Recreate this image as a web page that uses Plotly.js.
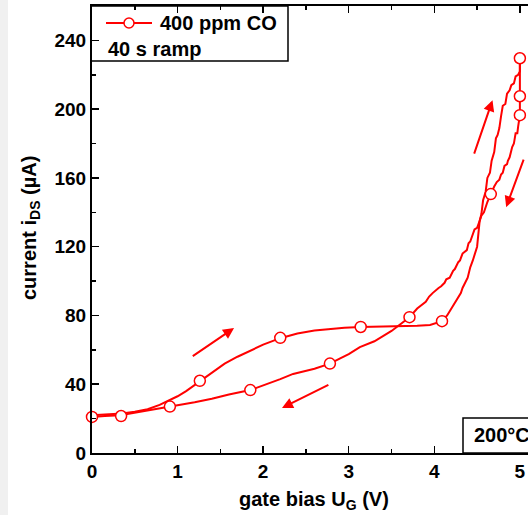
<!DOCTYPE html>
<html>
<head>
<meta charset="utf-8">
<script src="https://cdn.plot.ly/plotly-3.0.1.min.js"></script>
<style>
html,body{margin:0;padding:0;overflow:hidden;background:#fff;}
#strip{position:absolute;left:0;top:0;width:8px;height:515px;background:#f0f0f0;z-index:5;}
#chart{position:absolute;left:0;top:0;width:548px;height:515px;}
</style>
</head>
<body>
<div id="strip"></div>
<div id="chart"></div>
<script>
// forward sweep (0 V -> 5 V)
const fwdX = [0,0.15,0.35,0.5,0.65,0.79,0.9,1.0,1.1,1.26,1.4,1.55,1.7,1.81,2.0,2.2,2.4,2.6,2.74,2.95,3.14,3.4,3.6,3.8,3.95,4.02,4.09,4.15,4.2,4.22,4.28,4.31,4.33,4.39,4.42,4.45,4.5,4.53,4.55,4.57,4.6,4.62,4.65,4.67,4.7,4.72,4.74,4.76,4.78,4.8,4.83,4.85,4.88,4.9,4.93,4.95,4.98,5.0,5.0];
const fwdY = [22,22.5,23,24,25.5,28,30.5,33,36,41.8,47,52,56,58.7,63,66.8,69.5,71.2,72,72.8,73.3,73.5,73.7,74,74.5,75.5,76.7,80,84,86,91,93,96,102,108,112,120,135,139,147,152,160,163,170,175,183,185,189,196,202,203,209,211,214,215,219,220,222,229.6];
// reverse sweep (5 V -> 0 V)
const revX = [5.0,5.0,5.0,4.98,4.97,4.95,4.93,4.91,4.9,4.88,4.86,4.85,4.82,4.8,4.78,4.76,4.73,4.7,4.66,4.62,4.58,4.55,4.53,4.5,4.47,4.45,4.42,4.4,4.38,4.33,4.3,4.28,4.24,4.22,4.18,4.14,4.12,4.08,4.05,3.98,3.94,3.9,3.85,3.8,3.71,3.6,3.5,3.4,3.3,3.13,3.0,2.9,2.78,2.6,2.35,2.2,2.0,1.85,1.6,1.4,1.2,0.91,0.7,0.5,0.33,0.15,0];
const revY = [229.6,207.5,196.5,190,186,186,180,178,176,172,170,168,167,163,162,159,157.6,155,150.6,146,140,138,135,131,130,127,123,122,118,116,112,111,107,106,102,101,99,97,96,93,91,88,86,84,79,75,71,68,65,61.6,57.5,55,52,49,46,43,39.5,36.6,34,31.5,29.5,27,25.5,23.5,22,21.5,21];
// sampled points (open circles)
const markX = [0,0.34,0.91,1.26,1.85,2.2,2.78,3.14,3.71,4.09,4.66,5.0,5.0,5.0];
const markY = [21,21.5,27,42,36.6,67,52,73.3,79,76.7,150.6,196.5,207.5,229.6];
// sweep-direction arrows: [tailX, tailY, headX, headY]
const arrows = [[1.16,55.8,1.66,72.7],[2.78,40.1,2.22,26.2],[4.46,173.3,4.68,205.2],[5.05,171.5,4.84,143.0]];
const xTicks = [0,1,2,3,4,5];
const yTicks = [0,40,80,120,160,200,240];

const RED = '#ff0000';
const FONT = 'Liberation Sans, Arial, sans-serif';

const traces = [
  {x: fwdX, y: fwdY, mode: 'lines', line: {color: RED, width: 2}, showlegend: false, hoverinfo: 'skip'},
  {x: revX, y: revY, mode: 'lines', line: {color: RED, width: 2}, showlegend: false, hoverinfo: 'skip'},
  {x: markX, y: markY, mode: 'markers', cliponaxis: false, showlegend: false,
   marker: {symbol: 'circle', size: 11, color: '#ffffff', line: {color: RED, width: 1.5}}}
];

const L = 92, R = 11, T = 6, B = 62, W = 548, H = 515;
const pw = W - L - R, ph = H - T - B;
const px = v => (v - L) / pw;       // page px -> paper x
const py = v => (H - B - v) / ph;   // page px -> paper y

const annotations = arrows.map(a => ({
  x: a[2], y: a[3], ax: a[0], ay: a[1], xref: 'x', yref: 'y', axref: 'x', ayref: 'y',
  text: '', showarrow: true, arrowhead: 2, arrowsize: 1.1, arrowwidth: 2, arrowcolor: RED
}));
annotations.push(
  {x: px(158), y: py(23), xref: 'paper', yref: 'paper', xanchor: 'left', yanchor: 'middle', showarrow: false,
   text: '400 ppm CO', font: {family: FONT, size: 20, color: '#000', weight: 'bold'}},
  {x: px(106), y: py(49), xref: 'paper', yref: 'paper', xanchor: 'left', yanchor: 'middle', showarrow: false,
   text: '40 s ramp', font: {family: FONT, size: 20, color: '#000', weight: 'bold'}},
  {x: px(472), y: py(435), xref: 'paper', yref: 'paper', xanchor: 'left', yanchor: 'middle', showarrow: false,
   text: '200°C', font: {family: FONT, size: 20, color: '#000', weight: 'bold'}},
  {x: px(314), y: py(500), xref: 'paper', yref: 'paper', xanchor: 'center', yanchor: 'middle', showarrow: false,
   text: 'gate bias U<sub>G</sub> (V)', font: {family: FONT, size: 20, color: '#000', weight: 'bold'}},
  {x: px(31), y: py(228), xref: 'paper', yref: 'paper', xanchor: 'center', yanchor: 'middle', showarrow: false,
   textangle: -90, text: 'current i<sub>DS</sub> (µA)', font: {family: FONT, size: 20, color: '#000', weight: 'bold'}}
);

const shapes = [
  {type: 'rect', xref: 'paper', yref: 'paper', x0: px(91), x1: px(288), y0: py(61), y1: 1,
   line: {color: '#000', width: 1.5}, fillcolor: 'rgba(0,0,0,0)'},
  {type: 'line', xref: 'paper', yref: 'paper', x0: px(106), x1: px(152), y0: py(23), y1: py(23),
   line: {color: RED, width: 2}},
  {type: 'circle', xref: 'paper', yref: 'paper', xsizemode: 'pixel', ysizemode: 'pixel',
   xanchor: px(129), yanchor: py(23), x0: -5, x1: 5, y0: -5, y1: 5,
   line: {color: RED, width: 1.5}, fillcolor: '#ffffff'},
  {type: 'rect', xref: 'paper', yref: 'paper', x0: px(463), x1: 1, y0: 0, y1: py(418),
   line: {color: '#000', width: 1.5}, fillcolor: '#ffffff'}
];

const axisCommon = {
  showgrid: false, zeroline: false, showline: true, linecolor: '#000', linewidth: 2,
  mirror: 'ticks', ticks: 'inside', ticklen: 7, tickwidth: 1.5, tickcolor: '#000',
  tickfont: {family: FONT, size: 19, color: '#000', weight: 'bold'}, fixedrange: true
};

const layout = {
  width: W, height: H,
  margin: {l: L, r: R, t: T, b: B, pad: 0},
  paper_bgcolor: '#ffffff', plot_bgcolor: '#ffffff',
  showlegend: false,
  font: {family: FONT, color: '#000'},
  xaxis: Object.assign({}, axisCommon, {range: [0, 5.2], tickvals: xTicks, ticktext: xTicks.map(String),
    minor: {dtick: 0.5, tick0: 0, ticks: 'inside', ticklen: 4, tickwidth: 1.5, tickcolor: '#000'}}),
  yaxis: Object.assign({}, axisCommon, {range: [0, 260], tickvals: yTicks, ticktext: yTicks.map(String),
    minor: {dtick: 20, tick0: 0, ticks: 'inside', ticklen: 4, tickwidth: 1.5, tickcolor: '#000'}}),
  annotations: annotations,
  shapes: shapes
};

Plotly.newPlot('chart', traces, layout, {displayModeBar: false, staticPlot: true});
</script>
</body>
</html>
